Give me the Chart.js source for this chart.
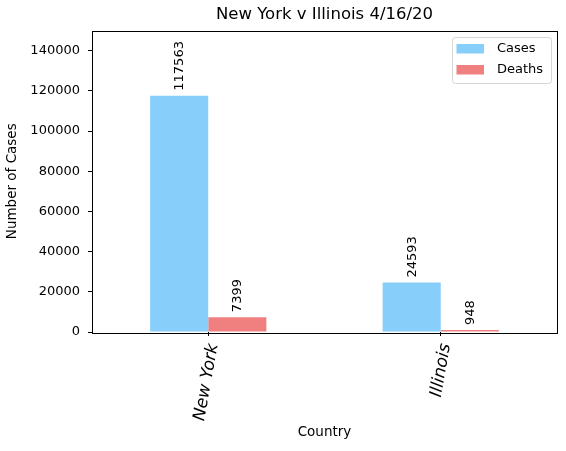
<!DOCTYPE html>
<html>
<head>
<meta charset="utf-8">
<script src="https://cdn.jsdelivr.net/npm/chart.js@4"></script>
<style>
    body { margin: 0; background: #fff; }
    #wrap { width: 566px; height: 451px; }
</style>
</head>
<body>
<div id="wrap"><canvas id="covidChart" width="566" height="451"></canvas></div>
<script>
// data
const states = ['New York', 'Illinois'];
const cases = [117563, 24593];
const deaths = [7399, 948];
const yTicks = [0, 20000, 40000, 60000, 80000, 100000, 120000, 140000];

const FONT = "'DejaVu Sans', sans-serif";

// title over the axes (matplotlib centres it on the plot, not the canvas)
const titlePlugin = {
    id: 'axTitle',
    afterDraw(chart) {
        const { ctx, chartArea: a } = chart;
        ctx.save();
        ctx.font = `16.5px ${FONT}`;
        ctx.fillStyle = '#000';
        ctx.textAlign = 'center';
        ctx.textBaseline = 'middle';
        ctx.fillText('New York v Illinois 4/16/20', (a.left + a.right) / 2, 15);
        ctx.restore();
    }
};

// full box around the plot
const framePlugin = {
    id: 'frame',
    afterDraw(chart) {
        const { ctx, chartArea: a } = chart;
        ctx.save();
        ctx.strokeStyle = '#000';
        ctx.lineWidth = 1;
        ctx.strokeRect(Math.round(a.left) + 0.5, Math.round(a.top) + 0.5,
            Math.round(a.right - a.left), Math.round(a.bottom - a.top));
        ctx.restore();
    }
};

// vertical value labels over each bar
const barLabels = {
    id: 'barLabels',
    afterDatasetsDraw(chart) {
        const { ctx } = chart;
        ctx.save();
        ctx.font = `13px ${FONT}`;
        ctx.fillStyle = '#000';
        ctx.textAlign = 'left';
        ctx.textBaseline = 'middle';
        chart.data.datasets.forEach((ds, i) => {
            chart.getDatasetMeta(i).data.forEach((bar, j) => {
                ctx.save();
                ctx.translate(bar.x + 0.5, bar.y - 5);
                ctx.rotate(-Math.PI / 2);
                ctx.fillText(String(ds.data[j]), 0, 0);
                ctx.restore();
            });
        });
        ctx.restore();
    }
};

// matplotlib-like legend box in the upper right corner
const legendBox = {
    id: 'legendBox',
    afterDraw(chart) {
        const { ctx, chartArea: a } = chart;
        const w = 99, h = 46;
        const x = a.right - 6 - w, y = a.top + 6.5;
        ctx.save();
        ctx.globalAlpha = 0.8;
        ctx.fillStyle = '#fff';
        ctx.strokeStyle = '#cccccc';
        ctx.lineWidth = 1;
        ctx.beginPath();
        ctx.roundRect(x + 0.5, y + 0.5, w, h, 3);
        ctx.fill();
        ctx.stroke();
        ctx.globalAlpha = 1;
        ctx.font = `13px ${FONT}`;
        ctx.textBaseline = 'middle';
        chart.data.datasets.forEach((ds, i) => {
            const rowY = y + 7 + i * 21;
            ctx.fillStyle = ds.backgroundColor;
            ctx.fillRect(x + 4.5, rowY, 27.5, 9.5);
            ctx.fillStyle = '#000';
            ctx.fillText(ds.label, x + 45, rowY + 4.5);
        });
        ctx.restore();
    }
};

new Chart(document.getElementById('covidChart'), {
    type: 'bar',
    data: {
        labels: states,
        datasets: [
            { label: 'Cases', data: cases, backgroundColor: '#87CEFA', borderWidth: 0 },
            { label: 'Deaths', data: deaths, backgroundColor: '#F08080', borderWidth: 0 }
        ]
    },
    options: {
        responsive: false,
        animation: false,
        categoryPercentage: 0.5,
        barPercentage: 1.0,
        layout: { padding: { top: 30.5, right: 9, left: 0, bottom: 0 } },
        plugins: { legend: { display: false }, tooltip: { enabled: false }, title: { display: false } },
        scales: {
            x: {
                grid: { offset: false, drawOnChartArea: false, drawTicks: true, tickLength: 4, color: '#000' },
                border: { display: false },
                ticks: {
                    color: '#000', minRotation: 80, maxRotation: 80, padding: 6, labelOffset: 5,
                    font: { family: FONT, size: 17, style: 'italic' }
                },
                title: { display: true, text: 'Country', color: '#000', font: { family: FONT, size: 13.5 }, padding: { top: 4, bottom: 10 } },
                afterFit(s) { s.height = 119; }
            },
            y: {
                min: 0, max: 150000,
                grid: { drawOnChartArea: false, drawTicks: true, tickLength: 4, color: '#000' },
                border: { display: false },
                afterBuildTicks(s) { s.ticks = yTicks.map(v => ({ value: v })); },
                ticks: { color: '#000', padding: 8, font: { family: FONT, size: 13 }, callback: v => String(v) },
                title: { display: true, text: 'Number of Cases', color: '#000', font: { family: FONT, size: 13.5 }, padding: { top: 4, bottom: 4 } },
                afterFit(s) { s.width = 92; }
            }
        }
    },
    plugins: [barLabels, framePlugin, legendBox, titlePlugin]
});
</script>
</body>
</html>
